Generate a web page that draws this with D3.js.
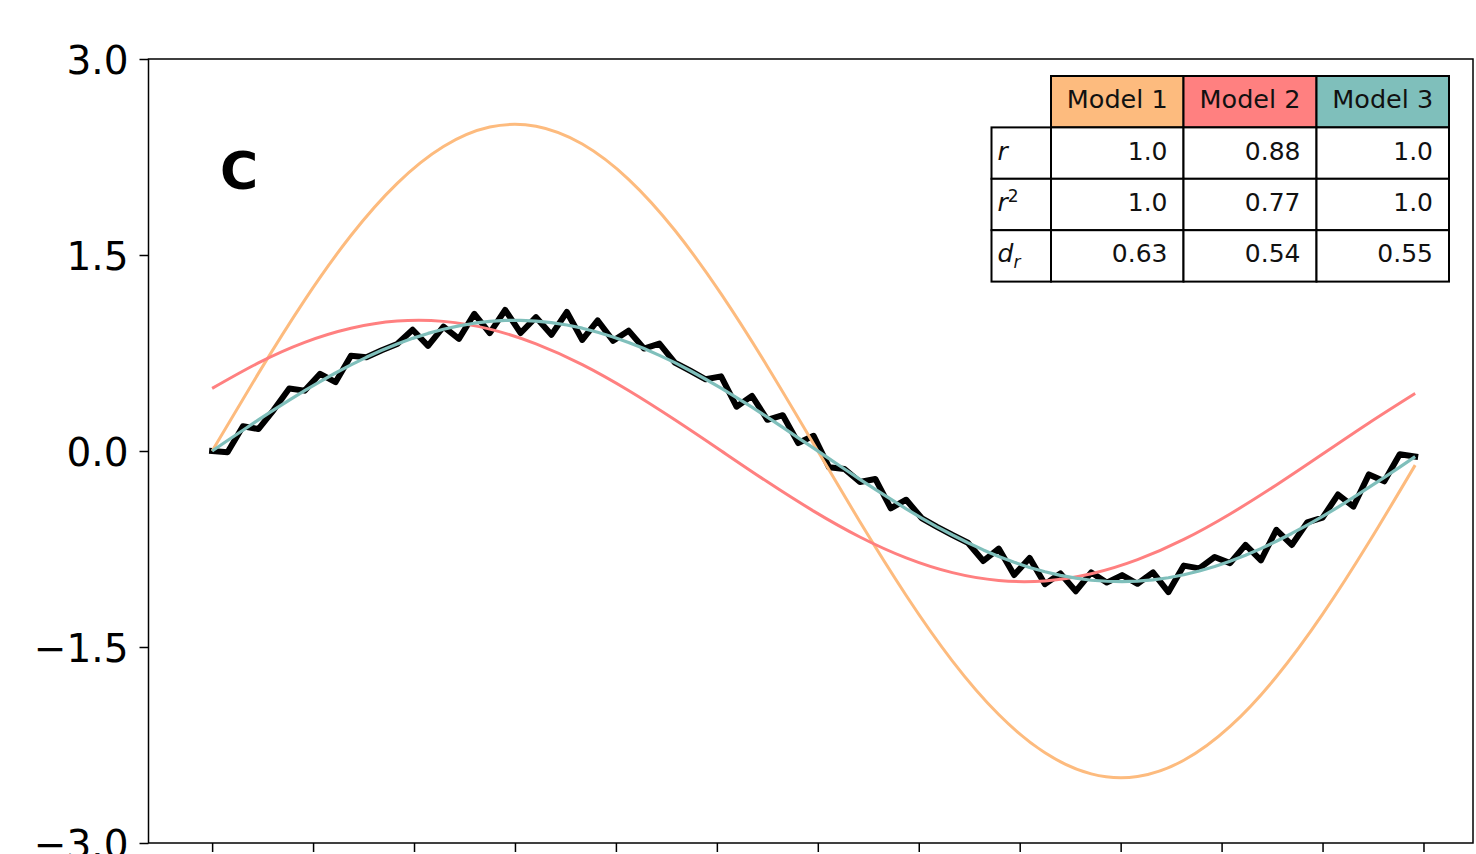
<!DOCTYPE html>
<html>
<head>
<meta charset="utf-8">
<script src="https://cdn.jsdelivr.net/npm/d3@7"></script>
<style>
  html, body { margin: 0; padding: 0; background: #fff; }
  svg { display: block; font-family: "DejaVu Sans", sans-serif; }
</style>
</head>
<body>
<svg id="chart" width="1476" height="854"></svg>
<script>
// ---- data ---------------------------------------------------------------
// sample positions (radians) of the observed series and of Model 3
const obsX = [0, 0.08, 0.16, 0.24, 0.32, 0.40, 0.48, 0.56, 0.64, 0.72,
  0.80, 0.88, 0.96, 1.04, 1.12, 1.20, 1.28, 1.36, 1.44, 1.52,
  1.60, 1.68, 1.76, 1.84, 1.92, 2.00, 2.08, 2.16, 2.24, 2.32,
  2.40, 2.48, 2.56, 2.64, 2.72, 2.80, 2.88, 2.96, 3.04, 3.12,
  3.20, 3.28, 3.36, 3.44, 3.52, 3.60, 3.68, 3.76, 3.84, 3.92,
  4.00, 4.08, 4.16, 4.24, 4.32, 4.40, 4.48, 4.56, 4.64, 4.72,
  4.80, 4.88, 4.96, 5.04, 5.12, 5.20, 5.28, 5.36, 5.44, 5.52,
  5.60, 5.68, 5.76, 5.84, 5.92, 6.00, 6.08, 6.16, 6.24];

// observed signal (black, jagged)
const observed = [0.000, -0.010, 0.189, 0.168, 0.315, 0.479, 0.462, 0.591, 0.527, 0.729,
  0.717, 0.771, 0.819, 0.928, 0.805, 0.952, 0.858, 1.050, 0.902, 1.079,
  0.903, 1.024, 0.889, 1.064, 0.850, 0.999, 0.843, 0.921, 0.784, 0.822,
  0.676, 0.614, 0.549, 0.571, 0.339, 0.422, 0.239, 0.274, 0.061, 0.116,
  -0.125, -0.138, -0.237, -0.214, -0.439, -0.373, -0.513, -0.580, -0.643, -0.702,
  -0.842, -0.747, -0.949, -0.818, -1.019, -0.937, -1.073, -0.929, -1.007, -0.950,
  -1.016, -0.929, -1.080, -0.877, -0.898, -0.811, -0.858, -0.718, -0.837, -0.603,
  -0.719, -0.547, -0.510, -0.333, -0.425, -0.179, -0.232, -0.025, -0.043];

// Model 3 (teal), same sample positions as the observations
const model3 = [0.000, 0.080, 0.159, 0.238, 0.315, 0.389, 0.462, 0.531, 0.597, 0.659,
  0.717, 0.771, 0.819, 0.862, 0.900, 0.932, 0.958, 0.978, 0.992, 0.999,
  1.000, 0.994, 0.982, 0.964, 0.940, 0.909, 0.873, 0.831, 0.784, 0.732,
  0.676, 0.614, 0.549, 0.481, 0.409, 0.335, 0.259, 0.181, 0.101, 0.022,
  -0.058, -0.138, -0.217, -0.294, -0.369, -0.443, -0.513, -0.580, -0.643, -0.702,
  -0.757, -0.807, -0.851, -0.891, -0.924, -0.952, -0.973, -0.989, -0.997, -1.000,
  -0.996, -0.986, -0.970, -0.947, -0.918, -0.884, -0.843, -0.798, -0.747, -0.691,
  -0.631, -0.567, -0.500, -0.429, -0.355, -0.279, -0.202, -0.123, -0.043];

// coarser sample positions for the two smooth models
const modelX = [0, 0.24, 0.48, 0.72, 0.96, 1.20, 1.44, 1.68, 1.92, 2.16,
  2.40, 2.64, 2.88, 3.12, 3.36, 3.60, 3.84, 4.08, 4.32, 4.56,
  4.80, 5.04, 5.28, 5.52, 5.76, 6.00, 6.24];

// Model 1 (orange, exaggerated amplitude)
const model1 = [0.000, 0.594, 1.155, 1.649, 2.048, 2.330, 2.479, 2.485, 2.349, 2.079,
  1.689, 1.202, 0.647, 0.054, -0.542, -1.106, -1.608, -2.017, -2.310, -2.471,
  -2.491, -2.367, -2.108, -1.728, -1.249, -0.699, -0.108];

// Model 2 (red, phase shifted)
const model2 = [0.479, 0.674, 0.831, 0.939, 0.994, 0.992, 0.933, 0.820, 0.661, 0.463,
  0.239, 0.002, -0.236, -0.460, -0.658, -0.818, -0.931, -0.991, -0.994, -0.940,
  -0.832, -0.677, -0.482, -0.260, -0.023, 0.215, 0.441];

// axis ticks
const yTickValues = [-3.0, -1.5, 0.0, 1.5, 3.0];
const xTickValues = d3.range(13).map(k => k * Math.PI / 6);

// score table
const modelNames = ["Model 1", "Model 2", "Model 3"];
const modelColors = ["#fdbb7e", "#ff8080", "#7fbfbb"];
const rValues = [1.0, 0.88, 1.0];
const r2Values = [1.0, 0.77, 1.0];
const drValues = [0.63, 0.54, 0.55];

// ---- layout -------------------------------------------------------------
const svg = d3.select("#chart");
const plot = { left: 148.5, top: 59, right: 1473, bottom: 843 };

const x = d3.scaleLinear().domain([-0.33, 6.54]).range([plot.left, plot.right]);
const y = d3.scaleLinear().domain([-3, 3]).range([plot.bottom, plot.top]);

svg.append("defs").append("clipPath").attr("id", "plotClip")
  .append("rect")
  .attr("x", plot.left).attr("y", plot.top)
  .attr("width", plot.right - plot.left).attr("height", plot.bottom - plot.top);

const lines = svg.append("g").attr("clip-path", "url(#plotClip)");

const fineLine = d3.line().x((d, i) => x(obsX[i])).y(d => y(d));
const smoothLine = d3.line().x((d, i) => x(modelX[i])).y(d => y(d)).curve(d3.curveNatural);

lines.append("path").datum(observed)
  .attr("d", fineLine)
  .attr("fill", "none").attr("stroke", "#000").attr("stroke-width", 6)
  .attr("stroke-linejoin", "round").attr("stroke-linecap", "square");

lines.append("path").datum(model1)
  .attr("d", smoothLine)
  .attr("fill", "none").attr("stroke", modelColors[0]).attr("stroke-width", 3);

lines.append("path").datum(model2)
  .attr("d", smoothLine)
  .attr("fill", "none").attr("stroke", modelColors[1]).attr("stroke-width", 3);

lines.append("path").datum(model3)
  .attr("d", fineLine)
  .attr("fill", "none").attr("stroke", modelColors[2]).attr("stroke-width", 3.2)
  .attr("stroke-linejoin", "round");

// ---- axes ---------------------------------------------------------------
const yAxisG = svg.append("g")
  .attr("transform", `translate(${plot.left},0)`)
  .call(d3.axisLeft(y).tickValues(yTickValues).tickSize(9).tickPadding(11)
    .tickFormat(d3.format(".1f")));
yAxisG.select(".domain").remove();
yAxisG.selectAll(".tick line").attr("stroke", "#000").attr("stroke-width", 1.5);
yAxisG.selectAll(".tick text")
  .attr("font-family", "DejaVu Sans").attr("font-size", 39)
  .attr("fill", "#000").attr("dy", "0.36em");

const xAxisG = svg.append("g")
  .attr("transform", `translate(0,${plot.bottom})`)
  .call(d3.axisBottom(x).tickValues(xTickValues).tickSize(9).tickFormat(""));
xAxisG.select(".domain").remove();
xAxisG.selectAll(".tick line").attr("stroke", "#000").attr("stroke-width", 1.5);

svg.append("rect")
  .attr("x", plot.left).attr("y", plot.top)
  .attr("width", plot.right - plot.left).attr("height", plot.bottom - plot.top)
  .attr("fill", "none").attr("stroke", "#000").attr("stroke-width", 1.5);

// panel letter
svg.append("text")
  .attr("x", 220).attr("y", 189)
  .attr("font-family", "DejaVu Sans").attr("font-weight", "bold")
  .attr("font-size", 52).attr("fill", "#000")
  .text("C");

// ---- score table --------------------------------------------------------
const colEdges = [991.5, 1051, 1183.5, 1316.5, 1449];
const rowEdges = [76, 127.4, 178.8, 230.2, 281.6];
const table = svg.append("g").attr("font-family", "DejaVu Sans").attr("font-size", 25);
const fmt = v => Number.isInteger(v) ? v.toFixed(1) : String(v);

modelNames.forEach((name, j) => {
  const x0 = colEdges[j + 1], x1 = colEdges[j + 2];
  table.append("rect")
    .attr("x", x0).attr("y", rowEdges[0])
    .attr("width", x1 - x0).attr("height", rowEdges[1] - rowEdges[0])
    .attr("fill", modelColors[j]).attr("stroke", "#000").attr("stroke-width", 2);
  table.append("text")
    .attr("x", (x0 + x1) / 2).attr("y", (rowEdges[0] + rowEdges[1]) / 2)
    .attr("dy", "0.26em").attr("text-anchor", "middle").attr("fill", "#111")
    .attr("font-size", 25.5)
    .text(name);
});

const tableRows = [rValues, r2Values, drValues];
tableRows.forEach((vals, r) => {
  const y0 = rowEdges[r + 1], y1 = rowEdges[r + 2];
  table.append("rect")
    .attr("x", colEdges[0]).attr("y", y0)
    .attr("width", colEdges[1] - colEdges[0]).attr("height", y1 - y0)
    .attr("fill", "#fff").attr("stroke", "#000").attr("stroke-width", 2);
  vals.forEach((v, j) => {
    const x0 = colEdges[j + 1], x1 = colEdges[j + 2];
    table.append("rect")
      .attr("x", x0).attr("y", y0)
      .attr("width", x1 - x0).attr("height", y1 - y0)
      .attr("fill", "#fff").attr("stroke", "#000").attr("stroke-width", 2);
    table.append("text")
      .attr("x", x1 - 16).attr("y", (y0 + y1) / 2)
      .attr("dy", "0.26em").attr("text-anchor", "end").attr("fill", "#111")
      .text(fmt(v));
  });
});

// row labels: r, r², d_r in math italics
function rowLabel(r) {
  const y0 = rowEdges[r + 1], y1 = rowEdges[r + 2];
  return table.append("text")
    .attr("x", colEdges[0] + 6).attr("y", (y0 + y1) / 2)
    .attr("dy", "0.26em").attr("fill", "#111");
}
rowLabel(0).append("tspan").attr("font-style", "italic").text("r");
const l2 = rowLabel(1);
l2.append("tspan").attr("font-style", "italic").text("r");
l2.append("tspan").attr("font-size", 17).attr("dy", "-0.55em").text("2");
const l3 = rowLabel(2);
l3.append("tspan").attr("font-style", "italic").text("d");
l3.append("tspan").attr("font-style", "italic").attr("font-size", 17).attr("dy", "0.35em").text("r");
</script>
</body>
</html>
